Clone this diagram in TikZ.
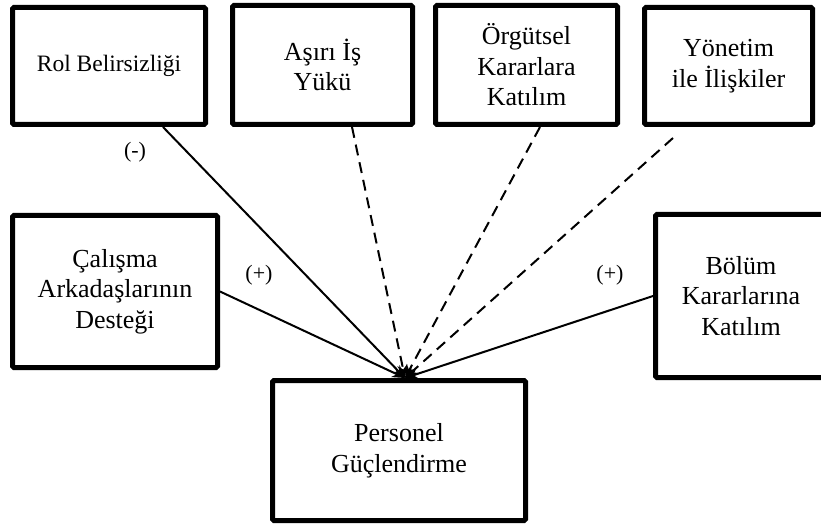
\documentclass[tikz,border=0pt]{standalone}
\usepackage{fontspec}
\setmainfont{Liberation Serif}
\usetikzlibrary{arrows.meta}

\tikzset{
  factor/.style={draw, line width=5pt, rounded corners=1.5pt, align=center, inner sep=2pt, font=\fontsize{26}{30.5}\selectfont},
  effect/.style={-{Stealth[length=13pt,width=10pt]}, line width=2pt},
  weak/.style={effect, dash pattern=on 11pt off 7pt},
  sign/.style={font=\fontsize{22}{26}\selectfont}
}

\begin{document}
\begin{tikzpicture}[x=1pt, y=-1pt]
    \clip (0,0) rectangle (821,526);

    % Top row
    \node[factor, minimum width=193pt, minimum height=117pt, font=\fontsize{23.5}{28}\selectfont] (rol) at (109,66) {Rol Belirsizliği};
    \node[factor, minimum width=180pt, minimum height=119pt] (asiri) at (322.5,65) {Aşırı İş\\Yükü};
    \node[factor, minimum width=182pt, minimum height=119pt] (orgut) at (526.5,65) {Örgütsel\\Kararlara\\Katılım};
    \node[factor, minimum width=168pt, minimum height=117pt] (yonetim) at (728.5,66) {Yönetim\\ile İlişkiler};

    % Middle row
    \node[factor, minimum width=205pt, minimum height=152pt] (calisma) at (115,291.5) {Çalışma\\Arkadaşlarının\\Desteği};
    \node[factor, minimum width=171pt, minimum height=163pt] (bolum) at (741,296) {Bölüm\\Kararlarına\\Katılım};

    % Outcome
    \node[factor, minimum width=253pt, minimum height=140pt] (personel) at (399,450.5) {Personel\\Güçlendirme};
    \coordinate (hub) at ([xshift=6pt]personel.north);

    % Significant paths
    \draw[effect] ([xshift=54pt]rol.south) -- (hub);
    \draw[effect] (calisma.east) -- (hub);
    \draw[effect] (bolum.west) -- (hub);

    % Non-significant paths
    \draw[weak] ([xshift=29.5pt]asiri.south) -- (hub);
    \draw[weak] ([xshift=13.5pt]orgut.south) -- (hub);
    \draw[weak] ([xshift=-55.5pt,yshift=-11pt]yonetim.south) -- (hub);

    % Signs
    \node[sign] (neg) at (135,152) {(-)};
    \node[sign] (posl) at (259,275) {(+)};
    \node[sign] (posr) at (610,275) {(+)};

\end{tikzpicture}
\end{document}
